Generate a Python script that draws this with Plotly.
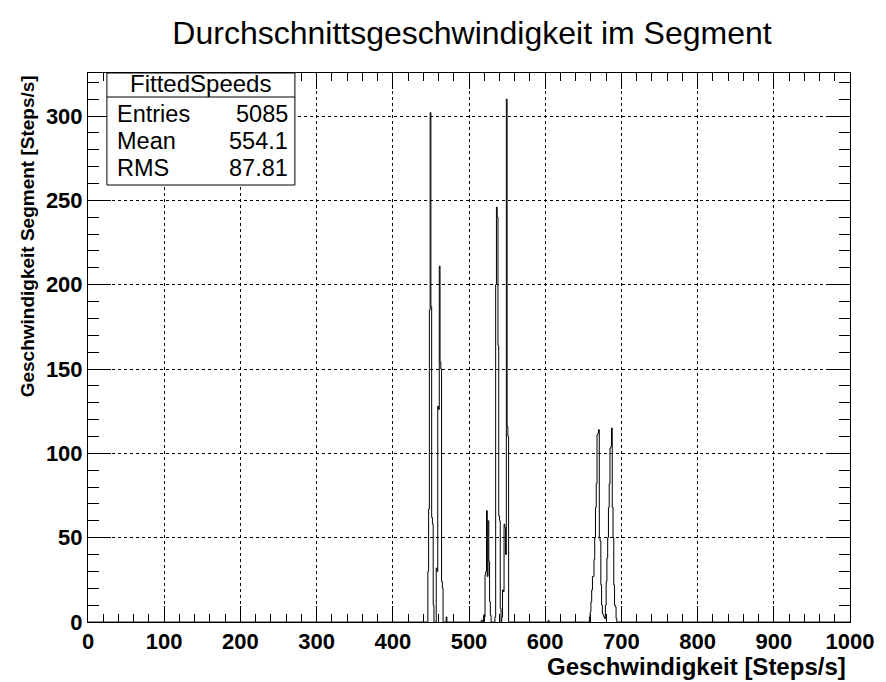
import numpy as np
import plotly.graph_objects as go

# Histogram "FittedSpeeds": 1000 bins of width 1 over [0, 1000); only filled bins listed
bin_low_edges = [
    446, 447, 448, 449, 450, 451, 452, 453,
    457, 458, 459, 460, 461, 462, 463, 464, 465, 470,
    516, 517, 519, 520, 521, 522, 523, 524, 525, 526, 527, 528,
    534, 535, 536, 537, 538, 539, 540, 541,
    543, 544, 545, 546, 547, 548, 549, 550, 551,
    604,
    658, 659, 660, 661, 662, 663, 664, 665, 666, 667, 668, 669, 670, 671, 672, 673, 674, 675, 676, 677, 678,
    679, 680, 681, 682, 683, 684, 685, 686, 687, 688, 689, 690, 691, 692, 693,
]
bin_counts = [
    30, 67, 185, 302, 187, 62, 58, 10,
    32, 30, 128, 126, 211, 154, 150, 24, 20, 3,
    1, 1, 4, 3, 28, 30, 66, 27, 60, 36, 12, 4,
    3, 200, 246, 240, 164, 63, 60, 8,
    3, 19, 18, 58, 56, 40, 310, 116, 110,
    1,
    3, 6, 12, 19, 27, 27, 37, 50, 68, 82, 111, 112, 114, 50, 48, 22, 10, 5, 4, 3, 2,
    10, 24, 38, 50, 68, 82, 103, 104, 115, 68, 50, 22, 10, 9, 2,
]

n_bins, x_min, x_max = 1000, 0.0, 1000.0
stats_rows = [("Entries", "5085"), ("Mean", "554.1"), ("RMS", "87.81")]

edges = np.linspace(x_min, x_max, n_bins + 1)
counts = np.zeros(n_bins)
for lo, c in zip(bin_low_edges, bin_counts):
    counts[int(lo - x_min)] = c
step_y = np.append(counts, counts[-1])

W, H = 886, 682
L, R, T, B = 88, 854, 73, 622          # plot frame in pixels
pw, ph = R - L, B - T

def px(x):
    return (x - L) / pw

def py(y):
    return (B - y) / ph

FONT = "Liberation Sans, Helvetica, Arial, sans-serif"

fig = go.Figure()
fig.add_trace(go.Scatter(
    x=edges, y=step_y, mode="lines", line_shape="hv",
    line=dict(color="black", width=1), hoverinfo="skip", showlegend=False,
))

axis_common = dict(
    showline=True, linecolor="black", linewidth=1, mirror="allticks",
    ticks="inside", tickcolor="black", tickwidth=1,
    showgrid=True, gridcolor="black", gridwidth=1, griddash="dot",
    zeroline=False,
    tickfont=dict(family=FONT, size=22, color="black", weight="bold"),
)

fig.update_xaxes(
    range=[x_min, x_max], tick0=0, dtick=100, ticklen=16,
    minor=dict(dtick=20, ticks="inside", ticklen=8, tickcolor="black", showgrid=False),
    **axis_common,
)
fig.update_yaxes(
    range=[0, 325.5], tick0=0, dtick=50, ticklen=23,
    minor=dict(dtick=10, ticks="inside", ticklen=11, tickcolor="black", showgrid=False),
    **axis_common,
)

shapes = [
    # statistics box
    dict(type="rect", xref="paper", yref="paper",
         x0=px(107), x1=px(296), y0=py(185), y1=py(73),
         line=dict(color="black", width=1), fillcolor="white", layer="above"),
    dict(type="line", xref="paper", yref="paper",
         x0=px(107), x1=px(296), y0=py(97), y1=py(97),
         line=dict(color="black", width=1), layer="above"),
]

stat_font = dict(family=FONT, size=23.5, color="black")
annotations = [
    dict(text="FittedSpeeds", x=px(201), y=py(84), xref="paper", yref="paper",
         xanchor="center", yanchor="middle", showarrow=False,
         font=dict(family=FONT, size=24, color="black")),
]
row_y = [114, 141, 168]
for (label, value), yy in zip(stats_rows, row_y):
    annotations.append(dict(text=label, x=px(115), y=py(yy), xref="paper", yref="paper",
                            xanchor="left", yanchor="middle", showarrow=False, font=stat_font))
    annotations.append(dict(text=value, x=px(291), y=py(yy), xref="paper", yref="paper",
                            xanchor="right", yanchor="middle", showarrow=False, font=stat_font))

annotations.append(dict(
    text="Geschwindigkeit [Steps/s]", x=px(852), y=py(666), xref="paper", yref="paper",
    xanchor="right", yanchor="middle", showarrow=False,
    font=dict(family=FONT, size=24, color="black", weight="bold"),
))
annotations.append(dict(
    text="Geschwindigkeit Segment [Steps/s]", x=px(27), y=1.0, xref="paper", yref="paper",
    xanchor="center", yanchor="top", showarrow=False, textangle=-90,
    font=dict(family=FONT, size=19, color="black", weight="bold"),
))

fig.update_layout(
    width=W, height=H,
    margin=dict(l=L, r=W - R, t=T, b=H - B),
    paper_bgcolor="white", plot_bgcolor="white",
    title=dict(text="Durchschnittsgeschwindigkeit im Segment",
               x=472 / W, y=1 - 33 / H, xanchor="center", yanchor="middle",
               font=dict(family=FONT, size=32, color="black")),
    shapes=shapes, annotations=annotations,
)

fig.write_html("out.html")
